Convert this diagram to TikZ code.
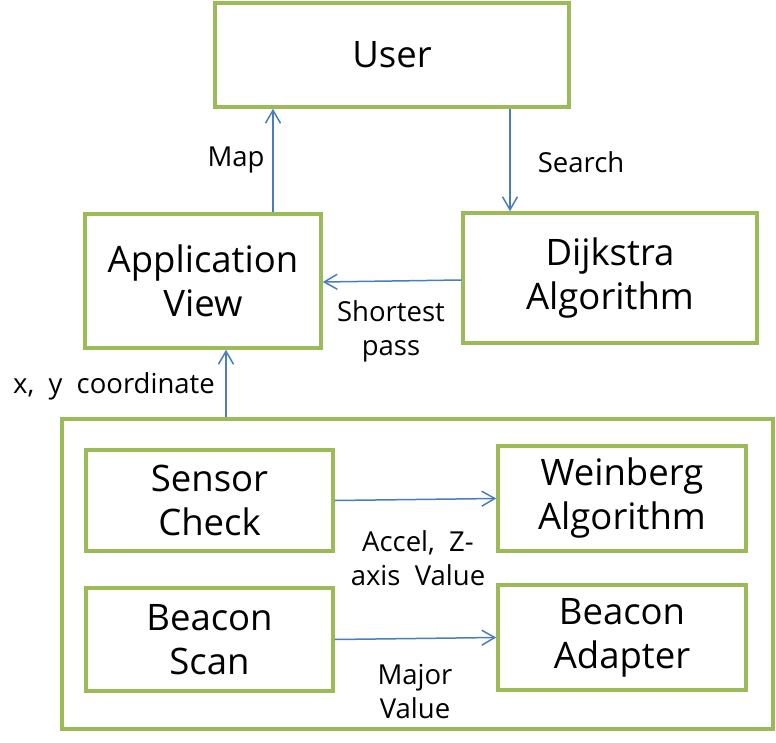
\documentclass[tikz,border=0pt]{standalone}
\usepackage{fontspec}
\setmainfont{Open Sans}
\usetikzlibrary{arrows.meta}
\definecolor{boxgreen}{HTML}{9BBB59}
\definecolor{arrblue}{HTML}{4A7EBB}
\begin{document}
\begin{tikzpicture}[x=1pt,y=-1pt,
  box/.style={draw=boxgreen,line width=3.5pt,fill=white,align=center,inner sep=0pt,
    font=\fontsize{36.5}{44}\selectfont},
  lbl/.style={align=center,inner sep=0pt,font=\fontsize{27.5}{34}\selectfont},
  arr/.style={draw=arrblue,line width=1.5pt,-{Straight Barb[length=13pt,width=15pt,line width=1.5pt]}}]
\useasboundingbox (0,0) rectangle (776,743);
\node[box,minimum width=711pt,minimum height=310pt] (Outer) at (417.5,574) {};
\node[box,minimum width=354pt,minimum height=104pt] (User) at (392,55) {\raisebox{-3pt}{User}};
\node[box,minimum width=236pt,minimum height=134pt] (App) at (203,281) {Application\\View};
\node[box,minimum width=294pt,minimum height=130pt] (Dijk) at (610,278) {Dijkstra\\Algorithm};
\node[box,minimum width=247pt,minimum height=101pt] (Sensor) at (209.5,500.5) {Sensor\\Check};
\node[box,minimum width=248pt,minimum height=105pt] (Wein) at (622,498.5) {Weinberg\\Algorithm};
\node[box,minimum width=247pt,minimum height=103pt] (BScan) at (209.5,639.5) {Beacon\\Scan};
\node[box,minimum width=248pt,minimum height=105pt] (BAdapt) at (622,637.5) {Beacon\\Adapter};
\draw[arr] ([xshift=70pt]App.north) -- ([xshift=-119pt]User.south);
\draw[arr] ([xshift=118pt]User.south) -- ([xshift=-100pt]Dijk.north);
\draw[arr] ([yshift=-2pt]Dijk.west) -- ([yshift=-1pt]App.east);
\draw[arr] ([xshift=-191.5pt]Outer.north) -- ([xshift=23pt]App.south);
\draw[arr] (Sensor.east) -- (Wein.west);
\draw[arr] (BScan.east) -- (BAdapt.west);
\node[lbl] (lmap) at (236,160) {Map};
\node[lbl] (lsearch) at (581,162) {Search};
\node[lbl] (lshort) at (391,331) {Shortest\\pass};
\node[lbl] (lxy) at (114,386) {x,\ \ y\ \ coordinate};
\node[lbl] (laccel) at (418,558) {Accel,\ \ Z-\\axis\ \ Value};
\node[lbl] (lmajor) at (415,692) {Major\\Value};
\end{tikzpicture}
\end{document}
